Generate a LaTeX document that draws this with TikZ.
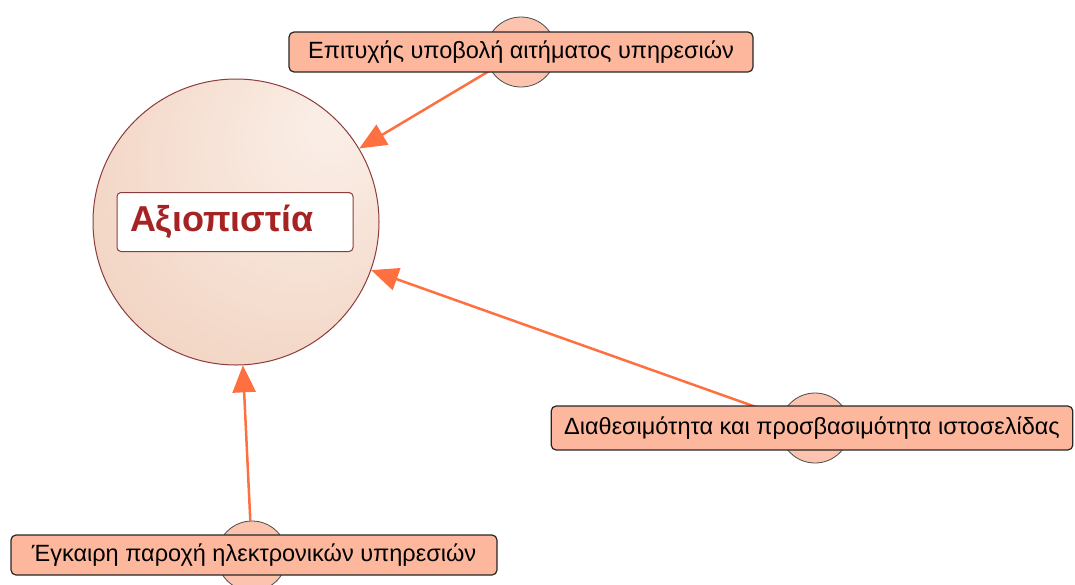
\documentclass[tikz,border=0pt]{standalone}
\usepackage{fontspec}
\setmainfont{Liberation Sans}
\usetikzlibrary{arrows.meta, backgrounds}

\definecolor{mainlight}{RGB}{250,237,229}
\definecolor{maindark}{RGB}{236,194,170}
\definecolor{mainedge}{RGB}{140,60,60}
\definecolor{titlered}{RGB}{165,35,35}
\definecolor{boxfill}{RGB}{253,183,156}
\definecolor{dotfill}{RGB}{252,196,174}
\definecolor{linkorange}{RGB}{255,112,64}

\pgfdeclareradialshading{mainshade}{\pgfpoint{18bp}{18bp}}{color(0bp)=(mainlight); color(4bp)=(mainlight); color(62bp)=(maindark)}

\begin{document}
\begin{tikzpicture}[
    x=1pt, y=-1pt,
    every node/.style={font=\fontsize{23.5}{28}\selectfont},
    hub/.style={circle, draw=mainedge, line width=1pt, shading=mainshade, minimum size=286pt, inner sep=0pt},
    title/.style={rectangle, draw=mainedge, line width=1pt, fill=white, rounded corners=4pt, text=titlered, font=\fontsize{36}{42}\selectfont\bfseries, text width=210pt, align=left, inner xsep=13pt, minimum height=59pt},
    dot/.style={circle, draw=black!70, line width=0.8pt, fill=dotfill, minimum size=70pt, inner sep=0pt},
    factor/.style={rectangle, draw=black!85, line width=1.2pt, fill=boxfill, rounded corners=5pt, inner xsep=13pt, minimum height=40pt},
    link/.style={draw=linkorange, line width=2.5pt, -{Triangle[length=27pt,width=23pt]}}
  ]
  \useasboundingbox (0,0) rectangle (1075,584);

  % central concept
  \node[hub] (hub) at (236,222) {};
  \node[title] (title) at (235,222) {Αξιοπιστία};

  % factors
  \node[dot] (d1) at (521,52) {};
  \node[dot] (d2) at (815,428) {};
  \node[dot] (d3) at (252,556) {};

  \node[factor, minimum width=464pt] (f1) at (521,52) {Επιτυχής υποβολή αιτήματος υπηρεσιών};
  \node[factor, minimum height=44pt] (f2) at (812,428) {Διαθεσιμότητα και προσβασιμότητα ιστοσελίδας};
  \node[factor, minimum width=486pt] (f3) at (254,555) {Έγκαιρη παροχή ηλεκτρονικών υπηρεσιών};

  \begin{scope}[on background layer]
    \draw[link] (d1) -- (hub);
    \draw[link] (d2) -- (hub);
    \draw[link] (d3) -- (hub);
  \end{scope}

\end{tikzpicture}
\end{document}
